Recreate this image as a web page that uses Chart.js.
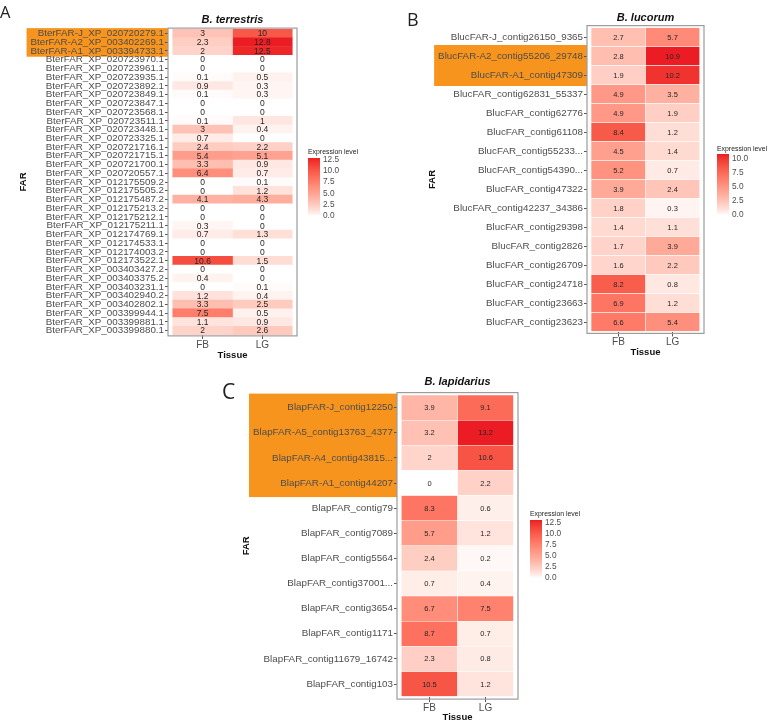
<!DOCTYPE html>
<html>
<head>
<meta charset="utf-8">
<title>FAR expression</title>
<script src="https://cdn.jsdelivr.net/npm/chart.js"></script>
<style>
  body { margin: 0; background: #fff; }
  #page { position: relative; width: 770px; height: 724px; overflow: hidden; }
  canvas { position: absolute; }
  .tag { position: absolute; z-index: 2; font-family: "Open Sans", sans-serif; color: #222; line-height: 1; }
</style>
</head>
<body>
<div id="page">
  <canvas id="chartA" width="380" height="362" style="left:0;top:0"></canvas>
  <canvas id="chartB" width="390" height="362" style="left:380px;top:0"></canvas>
  <canvas id="chartC" width="400" height="364" style="left:200px;top:360px"></canvas>
  <div class="tag" style="left:0;top:4px;font-size:16.5px">A</div>
  <div class="tag" style="left:407px;top:10px;font-size:18px">B</div>
  <div class="tag" style="left:222px;top:381px;font-size:21px">C</div>
</div>

<script>
var tissues = ['FB', 'LG'];

// B. terrestris
var terrGenes = ['BterFAR-J_XP_020720279.1', 'BterFAR-A2_XP_003402269.1', 'BterFAR-A1_XP_003394733.1',
  'BterFAR_XP_020723970.1', 'BterFAR_XP_020723961.1', 'BterFAR_XP_020723935.1', 'BterFAR_XP_020723892.1',
  'BterFAR_XP_020723849.1', 'BterFAR_XP_020723847.1', 'BterFAR_XP_020723568.1', 'BterFAR_XP_020723511.1',
  'BterFAR_XP_020723448.1', 'BterFAR_XP_020723325.1', 'BterFAR_XP_020721716.1', 'BterFAR_XP_020721715.1',
  'BterFAR_XP_020721700.1', 'BterFAR_XP_020720557.1', 'BterFAR_XP_012175509.2', 'BterFAR_XP_012175505.2',
  'BterFAR_XP_012175487.2', 'BterFAR_XP_012175213.2', 'BterFAR_XP_012175212.1', 'BterFAR_XP_012175211.1',
  'BterFAR_XP_012174769.1', 'BterFAR_XP_012174533.1', 'BterFAR_XP_012174003.2', 'BterFAR_XP_012173522.1',
  'BterFAR_XP_003403427.2', 'BterFAR_XP_003403375.2', 'BterFAR_XP_003403231.1', 'BterFAR_XP_003402940.2',
  'BterFAR_XP_003402802.1', 'BterFAR_XP_003399944.1', 'BterFAR_XP_003399881.1', 'BterFAR_XP_003399880.1'];
var terrFB = [3, 2.3, 2, 0, 0, 0.1, 0.9, 0.1, 0, 0, 0.1, 3, 0.7, 2.4, 5.4, 3.3, 6.4, 0, 0, 4.1, 0, 0, 0.3, 0.7, 0, 0, 10.6, 0, 0.4, 0, 1.2, 3.3, 7.5, 1.1, 2];
var terrLG = [10, 12.8, 12.5, 0, 0, 0.5, 0.3, 0.3, 0, 0, 1, 0.4, 0, 2.2, 5.1, 0.9, 0.7, 0.1, 1.2, 4.3, 0, 0, 0, 1.3, 0, 0, 1.5, 0, 0, 0.1, 0.4, 2.5, 0.5, 0.9, 2.6];
var terrHighlight = [0, 1, 2];

// B. lucorum
var lucGenes = ['BlucFAR-J_contig26150_9365', 'BlucFAR-A2_contig55206_29748', 'BlucFAR-A1_contig47309',
  'BlucFAR_contig62831_55337', 'BlucFAR_contig62776', 'BlucFAR_contig61108', 'BlucFAR_contig55233...',
  'BlucFAR_contig54390...', 'BlucFAR_contig47322', 'BlucFAR_contig42237_34386', 'BlucFAR_contig29398',
  'BlucFAR_contig2826', 'BlucFAR_contig26709', 'BlucFAR_contig24718', 'BlucFAR_contig23663', 'BlucFAR_contig23623'];
var lucFB = [2.7, 2.8, 1.9, 4.9, 4.9, 8.4, 4.5, 5.2, 3.9, 1.8, 1.4, 1.7, 1.6, 8.2, 6.9, 6.6];
var lucLG = [5.7, 10.9, 10.2, 3.5, 1.9, 1.2, 1.4, 0.7, 2.4, 0.3, 1.1, 3.9, 2.2, 0.8, 1.2, 5.4];
var lucHighlight = [1, 2];

// B. lapidarius
var lapGenes = ['BlapFAR-J_contig12250', 'BlapFAR-A5_contig13763_4377', 'BlapFAR-A4_contig43815...',
  'BlapFAR-A1_contig44207', 'BlapFAR_contig79', 'BlapFAR_contig7089', 'BlapFAR_contig5564',
  'BlapFAR_contig37001...', 'BlapFAR_contig3654', 'BlapFAR_contig1171', 'BlapFAR_contig11679_16742', 'BlapFAR_contig103'];
var lapFB = [3.9, 3.2, 2, 0, 8.3, 5.7, 2.4, 0.7, 6.7, 8.7, 2.3, 10.5];
var lapLG = [9.1, 13.2, 10.6, 2.2, 0.6, 1.2, 0.2, 0.4, 7.5, 0.7, 0.8, 1.2];
var lapHighlight = [0, 1, 2, 3];

var legendBreaks = [0, 2.5, 5, 7.5, 10, 12.5];

Chart.defaults.font.family = '"Liberation Sans", Arial, Helvetica, sans-serif';

// white -> red, blended in Lab space
function toLab(hex) {
  var c = [1, 3, 5].map(function (i) {
    var v = parseInt(hex.substr(i, 2), 16) / 255;
    return v <= 0.04045 ? v / 12.92 : Math.pow((v + 0.055) / 1.055, 2.4);
  });
  var X = (c[0] * 0.4124 + c[1] * 0.3576 + c[2] * 0.1805) / 0.95047;
  var Y = c[0] * 0.2126 + c[1] * 0.7152 + c[2] * 0.0722;
  var Z = (c[0] * 0.0193 + c[1] * 0.1192 + c[2] * 0.9505) / 1.08883;
  var f = function (t) { return t > 0.008856 ? Math.cbrt(t) : 7.787 * t + 16 / 116; };
  return [116 * f(Y) - 16, 500 * (f(X) - f(Y)), 200 * (f(Y) - f(Z))];
}
function fromLab(L, a, b) {
  var fy = (L + 16) / 116, fx = fy + a / 500, fz = fy - b / 200;
  var inv = function (t) { return t * t * t > 0.008856 ? t * t * t : (t - 16 / 116) / 7.787; };
  var X = inv(fx) * 0.95047, Y = inv(fy), Z = inv(fz) * 1.08883;
  var rgb = [X * 3.2406 - Y * 1.5372 - Z * 0.4986, -X * 0.9689 + Y * 1.8758 + Z * 0.0415, X * 0.0557 - Y * 0.2040 + Z * 1.0570];
  return 'rgb(' + rgb.map(function (v) {
    v = v <= 0.0031308 ? 12.92 * v : 1.055 * Math.pow(v, 1 / 2.4) - 0.055;
    return Math.round(Math.min(1, Math.max(0, v)) * 255);
  }).join(',') + ')';
}
var lowLab = toLab('#FFFFFF'), highLab = toLab('#EC1C24');
function heat(v, max) {
  var t = Math.pow(Math.max(0, Math.min(1, v / max)), 0.8);
  return fromLab(lowLab[0] + (highLab[0] - lowLab[0]) * t,
                 lowLab[1] + (highLab[1] - lowLab[1]) * t,
                 lowLab[2] + (highLab[2] - lowLab[2]) * t);
}

var tickFont = 9.8;

var heatExtras = {
  id: 'heatExtras',
  beforeDraw: function (chart, args, o) {
    var ctx = chart.ctx, area = chart.chartArea, y = chart.scales.y;
    var labels = chart.data.labels, rowH = area.height / labels.length;
    ctx.save();
    ctx.font = tickFont + 'px ' + Chart.defaults.font.family;
    var w = 0;
    o.highlight.forEach(function (i) { w = Math.max(w, ctx.measureText(labels[i]).width); });
    var first = o.highlight[0], last = o.highlight[o.highlight.length - 1];
    var top = Math.max(y.getPixelForValue(first) - rowH / 2 - 1.5, area.top - rowH * 0.1);
    var bottom = y.getPixelForValue(last) + rowH / 2 + 1.5;
    ctx.fillStyle = '#F7941E';
    ctx.fillRect(area.left - 4 - w - 4, top, w + 8, bottom - top);
    ctx.restore();
  },
  afterDatasetsDraw: function (chart, args, o) {
    var ctx = chart.ctx;
    ctx.save();
    ctx.font = o.cellFont + 'px ' + Chart.defaults.font.family;
    ctx.fillStyle = '#262626';
    ctx.textAlign = 'center';
    ctx.textBaseline = 'middle';
    chart.data.datasets.forEach(function (ds, k) {
      chart.getDatasetMeta(k).data.forEach(function (bar, i) {
        var p = bar.getCenterPoint();
        ctx.fillText(String(ds.values[i]), p.x, p.y + 0.5);
      });
    });
    ctx.restore();
  },
  afterDraw: function (chart, args, o) {
    var ctx = chart.ctx, area = chart.chartArea;
    var rowH = area.height / chart.data.labels.length;
    ctx.save();
    // panel border
    ctx.strokeStyle = '#9c9c9c';
    ctx.lineWidth = 1.2;
    ctx.strokeRect(area.left, area.top - rowH * 0.1, area.right - area.left, area.bottom - area.top + rowH * 0.2);
    // panel title
    ctx.fillStyle = '#111';
    ctx.font = 'italic bold 11px ' + Chart.defaults.font.family;
    ctx.textAlign = 'center';
    ctx.textBaseline = 'middle';
    ctx.fillText(o.title, (area.left + area.right) / 2, o.titleY);
    // colour bar legend
    var L = o.legend;
    ctx.textAlign = 'left';
    ctx.fillStyle = '#222';
    ctx.font = '6.9px ' + Chart.defaults.font.family;
    ctx.fillText('Expression level', L.x, L.titleY);
    var g = ctx.createLinearGradient(0, L.top + L.len, 0, L.top);
    for (var s = 0; s <= 20; s++) g.addColorStop(s / 20, heat(o.max * s / 20, o.max));
    ctx.fillStyle = g;
    ctx.fillRect(L.x, L.top, 12, L.len);
    ctx.font = '8.3px ' + Chart.defaults.font.family;
    ctx.fillStyle = '#4d4d4d';
    legendBreaks.forEach(function (b) {
      if (b > o.max) return;
      var py = L.top + L.len * (1 - b / o.max);
      ctx.fillText(b.toFixed(1), L.x + 15, py);
    });
    ctx.restore();
  }
};

function heatmap(id, genes, fb, lg, cfg) {
  var max = Math.max.apply(null, fb.concat(lg));
  new Chart(document.getElementById(id), {
    type: 'bar',
    data: {
      labels: genes,
      datasets: [fb, lg].map(function (vals, k) {
        return {
          label: tissues[k],
          data: genes.map(function () { return 1; }),
          values: vals,
          backgroundColor: vals.map(function (v) { return heat(v, max); }),
          borderColor: 'rgba(255,255,255,0.7)',
          borderWidth: cfg.cellBorder,
          barPercentage: 1,
          categoryPercentage: 1
        };
      })
    },
    options: {
      indexAxis: 'y',
      responsive: false,
      animation: false,
      events: [],
      layout: { padding: cfg.padding },
      plugins: {
        legend: { display: false },
        tooltip: { enabled: false },
        heatExtras: { highlight: cfg.highlight, cellFont: cfg.cellFont, title: cfg.title, titleY: cfg.titleY, legend: cfg.legend, max: max }
      },
      scales: {
        x: {
          type: 'linear', stacked: true, min: -0.08, max: 2.08,
          afterBuildTicks: function (s) { s.ticks = [{ value: 0.5 }, { value: 1.5 }]; },
          afterFit: function (s) { s.height = cfg.xAxisHeight; },
          grid: { drawOnChartArea: false, tickLength: cfg.xTickLen, color: '#555' },
          border: { display: false },
          ticks: { color: '#4d4d4d', font: { size: 10 }, padding: 0, callback: function (v, i) { return tissues[i]; } },
          title: { display: true, text: 'Tissue', color: '#111', font: { size: 9.5, weight: 'bold' }, padding: 0 }
        },
        y: {
          stacked: true,
          afterFit: function (s) { s.width = cfg.yAxisWidth; },
          grid: { offset: false, drawOnChartArea: false, tickLength: 3, color: '#555' },
          border: { display: false },
          ticks: { autoSkip: false, color: '#4d4d4d', font: { size: tickFont }, padding: 1 },
          title: { display: true, text: 'FAR', color: '#111', font: { size: 9.5, weight: 'bold' }, padding: 0 }
        }
      }
    },
    plugins: [heatExtras]
  });
}

heatmap('chartA', terrGenes, terrFB, terrLG, {
  padding: { left: 18, top: 29, right: 83, bottom: 1 }, yAxisWidth: 150, xAxisHeight: 26, xTickLen: 4,
  highlight: terrHighlight, cellFont: 8.5, cellBorder: 0, title: 'B. terrestris', titleY: 20,
  legend: { x: 308, titleY: 152, top: 158, len: 58 }
});
heatmap('chartB', lucGenes, lucFB, lucLG, {
  padding: { left: 46.6, top: 27.5, right: 66, bottom: 4.3 }, yAxisWidth: 160.4, xAxisHeight: 26.2, xTickLen: 5,
  highlight: lucHighlight, cellFont: 7.5, cellBorder: 0.6, title: 'B. lucorum', titleY: 17.5,
  legend: { x: 337, titleY: 149, top: 154, len: 61 }
});
heatmap('chartC', lapGenes, lapFB, lapLG, {
  padding: { left: 40.6, top: 35.1, right: 82, bottom: 1 }, yAxisWidth: 156.4, xAxisHeight: 26.4, xTickLen: 5.5,
  highlight: lapHighlight, cellFont: 7.5, cellBorder: 0.6, title: 'B. lapidarius', titleY: 22.3,
  legend: { x: 330, titleY: 154, top: 160, len: 58 }
});
</script>
</body>
</html>
